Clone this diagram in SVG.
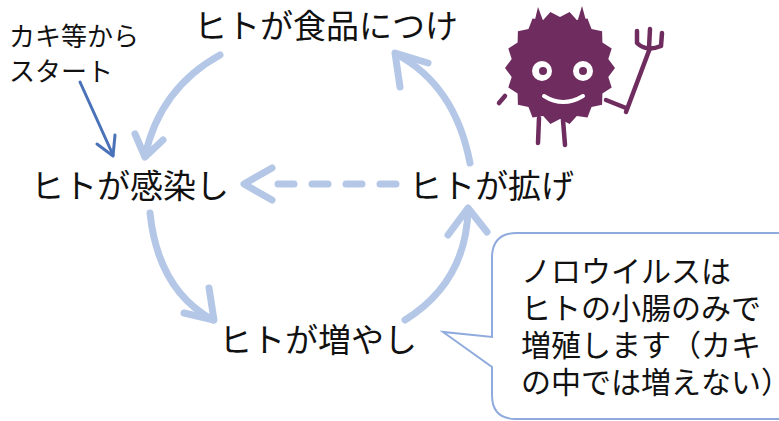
<svg xmlns="http://www.w3.org/2000/svg" width="779" height="421" viewBox="0 0 779 421">
  <style>
    .lbl { font-family: "Noto Sans CJK JP", "Liberation Sans", sans-serif; fill: #111; }
    .big { font-size: 33px; }
    .note { font-size: 26px; }
    .bubble-text { font-size: 30px; }
    .flow { fill: none; stroke: #b4c7e7; stroke-width: 7; stroke-linecap: round; stroke-linejoin: round; }
    .dash { stroke-dasharray: 16 18; }
    .start { fill: none; stroke: #4a72b8; stroke-width: 3; stroke-linecap: round; stroke-linejoin: round; }
    .germ { fill: #6f2c5f; }
    .germ-line { fill: none; stroke: #6f2c5f; stroke-width: 4.5; stroke-linecap: round; stroke-linejoin: round; }
  </style>
  <rect width="779" height="421" fill="#ffffff"/>

  <!-- cycle connectors -->
  <g id="connectors">
    <path class="flow" d="M220,55 Q160,88 145,156"/>
    <path class="flow" d="M135,134 L145,157 L163,140"/>

    <path class="flow" d="M150,213 Q158,290 213,320"/>
    <path class="flow" d="M184,313 L214,320 L209,288"/>

    <path class="flow" d="M405,320 Q466,282 468,210"/>
    <path class="flow" d="M448,235 L468,208 L487,232"/>

    <path class="flow" d="M470,163 Q455,85 396,54"/>
    <path class="flow" d="M400,87 L395,53 L428,63"/>

    <path class="flow dash" d="M396,184 L278,184"/>
    <path class="flow" d="M272,168 L244,184 L272,200"/>

    <path class="start" d="M80,82 L113,155"/>
    <path class="start" d="M97,144 L113,156 L115,135"/>
  </g>

  <!-- stage labels -->
  <g id="node-food">
    <text class="lbl big" x="194" y="38">ヒトが食品につけ</text>
  </g>
  <g id="node-infect">
    <text class="lbl big" x="31" y="198">ヒトが感染し</text>
  </g>
  <g id="node-spread">
    <text class="lbl big" x="409" y="198">ヒトが拡げ</text>
  </g>
  <g id="node-multiply">
    <text class="lbl big" x="219" y="352">ヒトが増やし</text>
  </g>
  <g id="node-start">
    <text class="lbl note" x="9" y="46">カキ等から</text>
    <text class="lbl note" x="9" y="81">スタート</text>
  </g>

  <!-- speech bubble -->
  <g id="bubble">
    <path d="M517,233 H792 V419 H516 Q492,419 492,395 V367 L443,332 L492,337 V258 Q492,233 517,233 Z" fill="#ffffff" stroke="#8faadc" stroke-width="2"/>
    <text class="lbl bubble-text" x="521" y="282">ノロウイルスは</text>
    <text class="lbl bubble-text" x="521" y="319">ヒトの小腸のみで</text>
    <text class="lbl bubble-text" x="521" y="356">増殖します（カキ</text>
    <text class="lbl bubble-text" x="521" y="393">の中では増えない）</text>
  </g>

  <!-- virus character with pitchfork -->
  <g id="virus">
    <polygon class="germ" points="533,28 538,7 545,26"/>
    <polygon class="germ" points="576,26 582,6 588,28"/>
    <path class="germ-line" d="M539,118 L538,143 M563,120 L565,145"/>
    <path class="germ-line" d="M606,100 L626,108"/>
    <path class="germ-line" d="M505,96 L499,103"/>
    <polygon class="germ" points="615,68 608.3,76.9 611.7,87.5 602.4,93.5 602.1,104.7 591.5,107.1 587.5,117.4 576.8,115.9 569.6,124.1 560,119 550.4,124.1 543.2,115.9 532.5,117.4 528.5,107.1 517.9,104.7 517.6,93.5 508.3,87.5 511.7,76.9 505,68 511.7,59.1 508.3,48.5 517.6,42.5 517.9,31.3 528.5,28.9 532.5,18.6 543.2,20.1 550.4,11.9 560,17 569.6,11.9 576.8,20.1 587.5,18.6 591.5,28.9 602.1,31.3 602.4,42.5 611.7,48.5 608.3,59.1"/>
    <circle cx="542" cy="71" r="10" fill="#ffffff"/>
    <circle cx="583" cy="71" r="10" fill="#ffffff"/>
    <circle cx="543" cy="71" r="4" class="germ"/>
    <circle cx="583" cy="71" r="4" class="germ"/>
    <path d="M544,96 Q563,108 583,96" fill="none" stroke="#ffffff" stroke-width="4" stroke-linecap="round"/>
    <path class="germ-line" d="M626,112 L650,48"/>
    <path class="germ-line" d="M637,31 L637,43 Q646,52 661,46 L662,33 M650,29 L649,48"/>
  </g>
</svg>
